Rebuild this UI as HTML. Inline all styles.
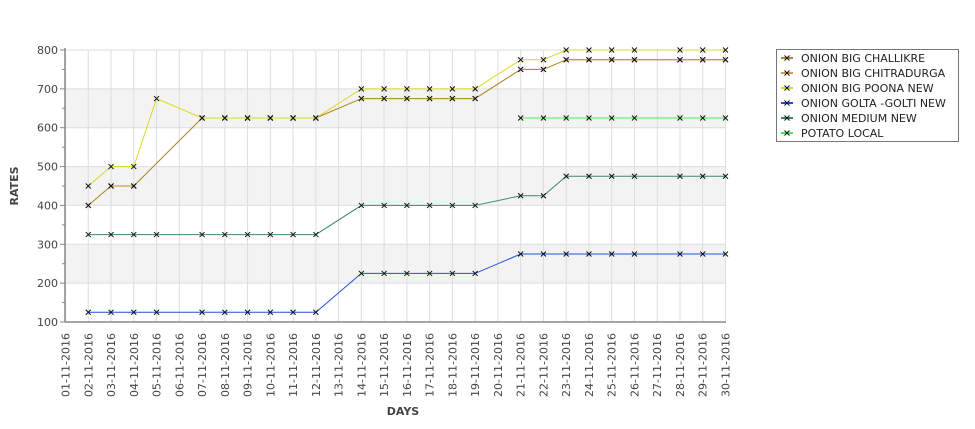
<!DOCTYPE html>
<html><head><meta charset="utf-8"><style>
html,body{margin:0;padding:0;background:#fff;}
svg{display:block;font-family:"DejaVu Sans","Liberation Sans",sans-serif;}
</style></head><body>
<svg id="chart" width="975" height="429" xmlns="http://www.w3.org/2000/svg">
<g id="bands"></g>
<g id="grid"></g>
<g id="axes"></g>
<g id="series"></g>
<text x="403" y="415" font-size="11" font-weight="bold" fill="#444" text-anchor="middle">DAYS</text>
<text x="0" y="0" font-size="11" font-weight="bold" fill="#444" text-anchor="middle" transform="translate(18,186) rotate(-90)">RATES</text>
<g id="legend"></g>
</svg>
<script>
const categories = ["01-11-2016","02-11-2016","03-11-2016","04-11-2016","05-11-2016","06-11-2016","07-11-2016","08-11-2016","09-11-2016","10-11-2016","11-11-2016","12-11-2016","13-11-2016","14-11-2016","15-11-2016","16-11-2016","17-11-2016","18-11-2016","19-11-2016","20-11-2016","21-11-2016","22-11-2016","23-11-2016","24-11-2016","25-11-2016","26-11-2016","27-11-2016","28-11-2016","29-11-2016","30-11-2016"];
const yTicks = [100,200,300,400,500,600,700,800];
const seriesNames = ["ONION BIG CHALLIKRE","ONION BIG CHITRADURGA","ONION BIG POONA NEW","ONION GOLTA -GOLTI NEW","ONION MEDIUM NEW","POTATO LOCAL"];
const seriesColors = ["#b0902a","#d4a050","#dcd820","#2050d8","#3a8a6a","#50e850"];
const challikre = [null,400,450,450,null,null,625,625,625,625,625,625,null,675,675,675,675,675,675,null,750,750,775,775,775,775,null,775,775,775];
const chitradurga = [null,400,450,450,null,null,625,625,625,625,625,625,null,675,675,675,675,675,675,null,750,750,775,775,775,775,null,775,775,775];
const poona = [null,450,500,500,675,null,625,625,625,625,625,625,null,700,700,700,700,700,700,null,775,775,800,800,800,800,null,800,800,800];
const golti = [null,125,125,125,125,null,125,125,125,125,125,125,null,225,225,225,225,225,225,null,275,275,275,275,275,275,null,275,275,275];
const medium = [null,325,325,325,325,null,325,325,325,325,325,325,null,400,400,400,400,400,400,null,425,425,475,475,475,475,null,475,475,475];
const potato = [null,null,null,null,null,null,null,null,null,null,null,null,null,null,null,null,null,null,null,null,625,625,625,625,625,625,null,625,625,625];
const allSeries = [challikre,chitradurga,poona,golti,medium,potato];

const NS="http://www.w3.org/2000/svg";
const L=65,R=726,T=50,B=322,yMin=100,yMax=800;
const x0=65.5,step=(725.5-65.5)/(categories.length-1);
function xs(i){return x0+i*step;}
function ys(v){return B-(v-yMin)/(yMax-yMin)*(B-T);}
function mk(tag,attrs,parent){const e=document.createElementNS(NS,tag);for(const k in attrs)e.setAttribute(k,attrs[k]);parent.appendChild(e);return e;}
const bands=document.getElementById('bands'),grid=document.getElementById('grid'),axes=document.getElementById('axes'),ser=document.getElementById('series'),leg=document.getElementById('legend');
for(let k=0;k<yTicks.length-1;k++){
  if(k%2===1){
    const r=mk('rect',{x:L,y:ys(yTicks[k+1]),width:R-L,height:ys(yTicks[k])-ys(yTicks[k+1]),fill:'#f3f3f3'},bands);
    
    
  }
}
categories.forEach((c,i)=>{
  const l=mk('line',{x1:xs(i),x2:xs(i),y1:T,y2:B,stroke:'#dddddd','stroke-width':1},grid);
  
  
  const t=mk('text',{x:0,y:0,'font-size':11,fill:'#444','text-anchor':'end',transform:`translate(${xs(i)+4},${B+11}) rotate(-90)`},axes);
  t.textContent=c;
  
  
});
yTicks.forEach(v=>{
  const l=mk('line',{x1:L,x2:R,y1:ys(v),y2:ys(v),stroke:'#dddddd','stroke-width':1},grid);
  
  
  mk('line',{x1:L-5,x2:L,y1:ys(v),y2:ys(v),stroke:'#888'},axes);
  const t=mk('text',{x:L-7,y:ys(v)+4,'font-size':11,fill:'#444','text-anchor':'end'},axes);
  t.textContent=v;
  
  
  if(v<yMax){mk('line',{x1:L-3,x2:L,y1:ys(v+50),y2:ys(v+50),stroke:'#888'},axes);}
});
mk('line',{x1:L,x2:L,y1:T-2,y2:B,stroke:'#888','stroke-width':1.5},axes);
mk('line',{x1:L,x2:R,y1:B,y2:B,stroke:'#888','stroke-width':1.5},axes);
const order=[4,3,5,1,0,2];
order.forEach(si=>{
  const d=allSeries[si];
  const pts=[];d.forEach((v,i)=>{if(v!==null)pts.push([xs(i),ys(v)]);});
  const g=mk('g',{},ser);
  
  
  const p=mk('polyline',{points:pts.map(p=>p.join(',')).join(' '),fill:'none',stroke:seriesColors[si],'stroke-width':1},g);
  
  
  pts.forEach(([x,y])=>{
    const m=mk('path',{d:`M${x-2.5},${y-2.5}L${x+2.5},${y+2.5}M${x-2.5},${y+2.5}L${x+2.5},${y-2.5}`,stroke:'#111','stroke-width':1},g);
    
    
  });
});
const lb=mk('rect',{x:776.5,y:49.5,width:182,height:92,fill:'#fff',stroke:'#777'},leg);


seriesNames.forEach((n,i)=>{
  const y=58+i*15;
  const g=mk('g',{},leg);
  
  
  mk('line',{x1:781,x2:793,y1:y,y2:y,stroke:seriesColors[i],'stroke-width':2},g);
  mk('path',{d:`M${784.5},${y-2.5}L${789.5},${y+2.5}M${784.5},${y+2.5}L${789.5},${y-2.5}`,stroke:'#111'},g);
  const t=mk('text',{x:801,y:y+4,'font-size':11,fill:'#222'},g);
  t.textContent=n;
});
</script>
</body></html>
